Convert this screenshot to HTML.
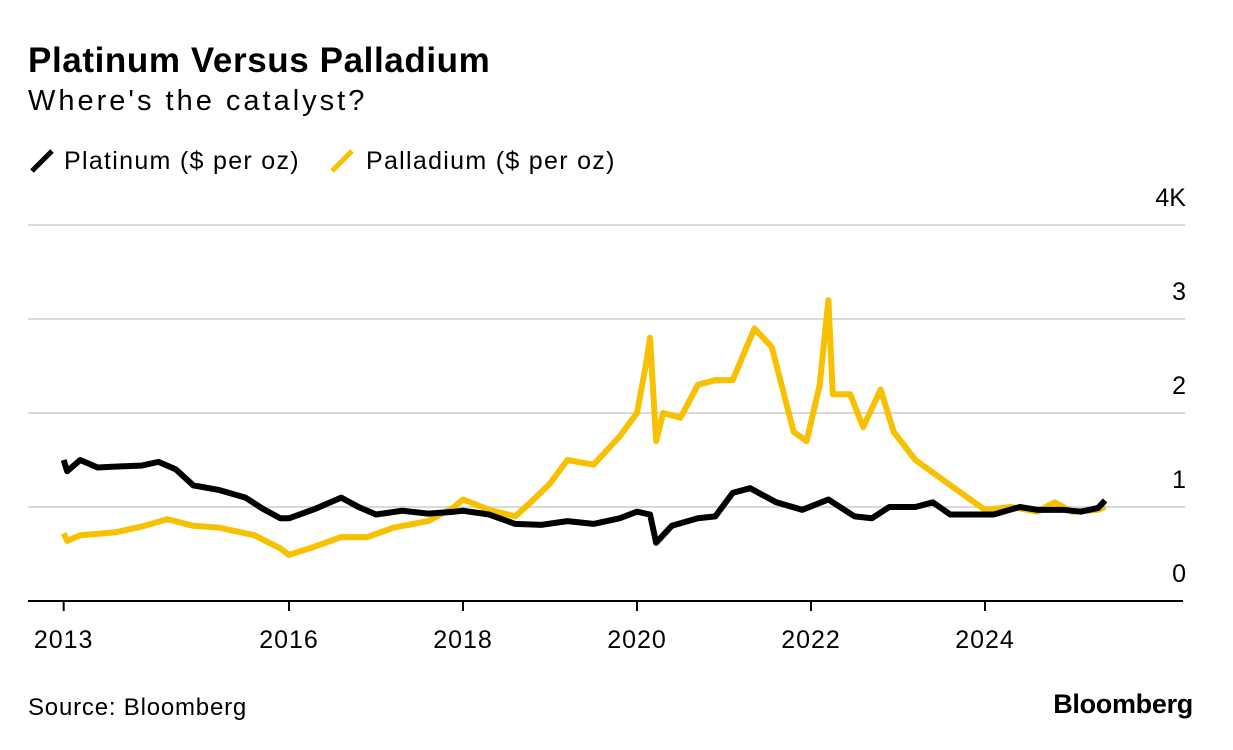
<!DOCTYPE html>
<html><head><meta charset="utf-8"><style>
body{margin:0;background:#fff;font-family:"Liberation Sans",sans-serif;color:#000}
#wrap{position:relative;width:1233px;height:750px;overflow:hidden}
.t{position:absolute;white-space:nowrap}
</style></head><body><div id="wrap">
<div class="t" style="left:28px;top:41px;font-size:35px;font-weight:bold;letter-spacing:0.6px">Platinum Versus Palladium</div>
<div class="t" style="left:28px;top:85px;font-size:29px;letter-spacing:3px">Where's the catalyst?</div>
<div class="t" style="left:28px;top:147px;font-size:25px;letter-spacing:1.3px"><svg width="36" height="26" style="vertical-align:-4px"><line x1="4" y1="24" x2="24" y2="4" stroke="#000" stroke-width="5"/></svg>Platinum ($ per oz)</div>
<div class="t" style="left:328px;top:147px;font-size:25px;letter-spacing:1.3px"><svg width="38" height="26" style="vertical-align:-4px"><line x1="4" y1="24" x2="24" y2="4" stroke="#f7c000" stroke-width="5"/></svg>Palladium ($ per oz)</div>
<svg id="chart" width="1233" height="750" style="position:absolute;left:0;top:0"></svg>
<div class="t" style="left:28px;top:694px;font-size:24px;letter-spacing:0.8px">Source: Bloomberg</div>
<div class="t" style="right:40px;top:689px;font-size:27px;font-weight:bold;letter-spacing:-0.3px">Bloomberg</div>
</div>
<script>
const yTicks=[0,1000,2000,3000,4000];
const yTickLabels=["0","1","2","3","4K"];
const xTicks=[2013.41,2016,2018,2020,2022,2024];
const xTickLabels=["2013","2016","2018","2020","2022","2024"];
const platDates=[2013.41,2013.45,2013.6,2013.8,2014.0,2014.3,2014.5,2014.7,2014.9,2015.2,2015.5,2015.7,2015.9,2016.0,2016.3,2016.6,2016.8,2017.0,2017.3,2017.6,2017.9,2018.0,2018.3,2018.6,2018.9,2019.2,2019.5,2019.8,2020.0,2020.15,2020.22,2020.4,2020.7,2020.9,2021.1,2021.3,2021.6,2021.9,2022.2,2022.5,2022.7,2022.9,2023.2,2023.4,2023.6,2023.9,2024.1,2024.4,2024.6,2024.9,2025.1,2025.3,2025.38];
const platValues=[1500,1380,1500,1420,1430,1440,1480,1400,1230,1180,1100,980,880,880,980,1100,1000,920,960,930,950,960,920,820,810,850,820,880,950,920,620,800,880,900,1150,1200,1050,970,1080,900,880,1000,1000,1050,920,920,920,1000,970,970,950,990,1070];
const pallDates=[2013.41,2013.45,2013.6,2014.0,2014.3,2014.6,2014.9,2015.2,2015.6,2015.9,2016.0,2016.3,2016.6,2016.9,2017.2,2017.6,2017.9,2018.0,2018.3,2018.6,2018.8,2019.0,2019.2,2019.5,2019.8,2020.0,2020.1,2020.15,2020.22,2020.3,2020.5,2020.7,2020.9,2021.1,2021.35,2021.55,2021.8,2021.95,2022.1,2022.2,2022.25,2022.45,2022.6,2022.8,2022.95,2023.2,2023.5,2023.8,2024.0,2024.3,2024.6,2024.8,2025.0,2025.3,2025.38];
const pallValues=[720,640,700,730,790,870,800,780,700,560,490,580,680,680,780,850,1000,1080,970,900,1070,1250,1500,1450,1750,2000,2500,2800,1700,2000,1950,2300,2350,2350,2900,2700,1800,1700,2300,3200,2200,2200,1850,2250,1800,1500,1300,1100,970,1000,950,1050,950,970,1000];
const NS="http://www.w3.org/2000/svg",svg=document.getElementById('chart');
const X=d=>289+(d-2016)*87;
const Y=v=>601-v*0.094;
function mk(t,a){const e=document.createElementNS(NS,t);for(const k in a)e.setAttribute(k,a[k]);svg.appendChild(e);return e;}
yTicks.forEach((v,i)=>{
  if(v>0){const g=mk('line',{x1:28,x2:1185,y1:Y(v),y2:Y(v),stroke:'#d9d9d9','stroke-width':2});
  
  }
  const t=mk('text',{x:1186,y:Y(v)-19,'text-anchor':'end','font-size':25,'font-family':'Liberation Sans, sans-serif'});
  t.textContent=yTickLabels[i];
  
  
});
const ax=mk('line',{x1:28,x2:1183,y1:601,y2:601,stroke:'#000','stroke-width':2});


xTicks.forEach((d,i)=>{
  const tk=mk('line',{x1:X(d),x2:X(d),y1:601,y2:611,stroke:'#000','stroke-width':2});
  
  
  const t=mk('text',{x:X(d),y:648,'text-anchor':'middle','font-size':25,'letter-spacing':1,'font-family':'Liberation Sans, sans-serif'});
  t.textContent=xTickLabels[i];
  
  
});
function line(ds,vs,c,n){
  const p=mk('polyline',{points:ds.map((d,i)=>X(d)+','+Y(vs[i])).join(' '),fill:'none',stroke:c,'stroke-width':6,'stroke-linejoin':'round'});
  
  
}
line(pallDates,pallValues,'#f7c000','palladium-line');
line(platDates,platValues,'#000','platinum-line');
</script></body></html>
